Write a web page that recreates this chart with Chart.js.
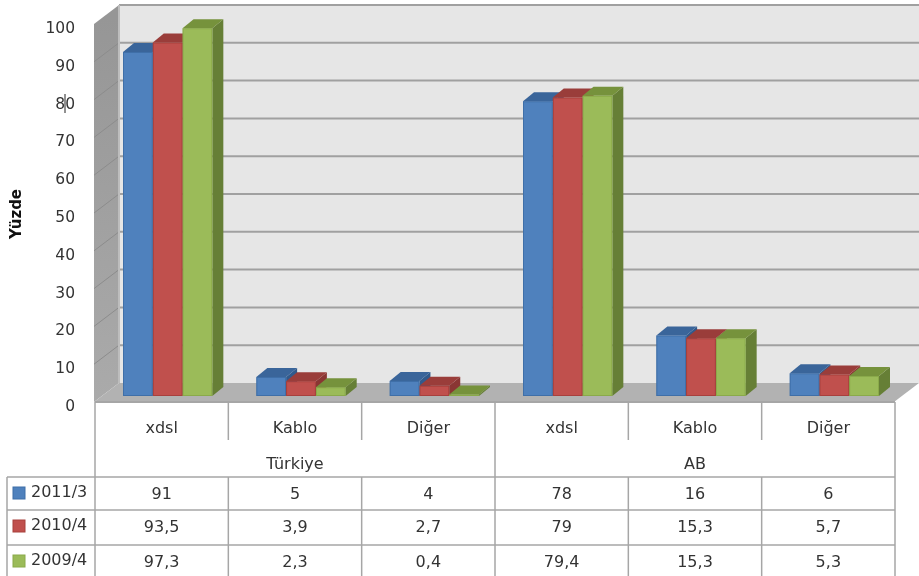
<!DOCTYPE html>
<html>
<head>
<meta charset="utf-8">
<title>Yüzde</title>
<script src="https://cdn.jsdelivr.net/npm/chart.js@4"></script>
<style>
  html, body { margin: 0; padding: 0; background: #fff; }
  canvas { display: block; }
</style>
</head>
<body>
<canvas id="chart" width="919" height="576"></canvas>
<script>
const categories = ['xdsl', 'Kablo', 'Diğer', 'xdsl', 'Kablo', 'Diğer'];
const groups = ['Türkiye', 'AB'];
const seriesNames = ['2011/3', '2010/4', '2009/4'];
const values2011 = [91, 5, 4, 78, 16, 6];
const values2010 = [93.5, 3.9, 2.7, 79, 15.3, 5.7];
const values2009 = [97.3, 2.3, 0.4, 79.4, 15.3, 5.3];
const axisTitle = 'Yüzde';

const FONT = '"DejaVu Sans", sans-serif';
const TEXT = '#333';
const LINE = '#a6a6a6';
const fill = ['#4f81bd', '#c0504d', '#9bbb59'];
const border = ['#3f6fa8', '#a8403d', '#8aaa4a'];
const topFill = ['#3a659a', '#9a3d3a', '#76923c'];
const sideFill = ['#315a8c', '#8a3633', '#667f36'];

// 3d offsets, relative to the bar scale
const barDepth = { x: 11, y: 9 };
const wallBack = { x: 18, y: -13 };
const wallFront = { x: -7, y: 6 };

const fmt = v => String(v).replace('.', ',');

function poly(ctx, pts, color) {
  ctx.fillStyle = color;
  ctx.beginPath();
  pts.forEach((p, i) => i ? ctx.lineTo(p[0], p[1]) : ctx.moveTo(p[0], p[1]));
  ctx.closePath();
  ctx.fill();
}

function seg(ctx, x1, y1, x2, y2, color, w) {
  ctx.strokeStyle = color;
  ctx.lineWidth = w;
  ctx.beginPath();
  ctx.moveTo(x1, y1);
  ctx.lineTo(x2, y2);
  ctx.stroke();
}

// side walls, floor and gridlines, then top and side of each bar.
// the bar fronts are the normal bar elements, drawn after this
const depthPlugin = {
  id: 'depth',
  beforeDatasetsDraw(chart) {
    const { ctx, chartArea: a, scales: { y } } = chart;
    const bx = a.left + wallBack.x, fx = a.left + wallFront.x;
    const rb = a.right + wallBack.x, rf = a.right + wallFront.x;
    const top = y.getPixelForValue(100), bot = y.getPixelForValue(0);
    ctx.save();
    poly(ctx, [[bx, top + wallBack.y], [rb, top + wallBack.y], [rb, bot + wallBack.y], [bx, bot + wallBack.y]], '#e6e6e6');
    const g = ctx.createLinearGradient(0, top, 0, bot);
    g.addColorStop(0, '#969696');
    g.addColorStop(1, '#aaaaaa');
    poly(ctx, [[fx, top + wallFront.y], [bx, top + wallBack.y], [bx, bot + wallBack.y], [fx, bot + wallFront.y]], g);
    poly(ctx, [[fx, bot + wallFront.y], [bx, bot + wallBack.y], [rb, bot + wallBack.y], [rf, bot + wallFront.y]], '#b2b2b2');
    y.ticks.forEach(t => {
      const py = y.getPixelForValue(t.value);
      if (t.value > 0) seg(ctx, bx, py + wallBack.y, rb, py + wallBack.y, '#a0a0a0', 2);
      if (t.value > 0 && t.value < 100) seg(ctx, fx, py + wallFront.y, bx, py + wallBack.y, '#8c8c8c', 1);
    });
    seg(ctx, bx, top + wallBack.y, bx, bot + wallBack.y, '#bdbdbd', 2);

    const d = barDepth;
    categories.forEach((c, n) => {
      chart.data.datasets.forEach((ds, i) => {
        const bar = chart.getDatasetMeta(i).data[n];
        const l = bar.x - bar.width / 2, r = bar.x + bar.width / 2;
        poly(ctx, [[r, bar.y], [r + d.x, bar.y - d.y], [r + d.x, bar.base - d.y], [r, bar.base]], sideFill[i]);
        poly(ctx, [[l, bar.y], [l + d.x, bar.y - d.y], [r + d.x, bar.y - d.y], [r, bar.y]], topFill[i]);
        // stops the light wall showing through the seam of the bar border
        poly(ctx, [[l, bar.y], [r, bar.y], [r, bar.base], [l, bar.base]], border[i]);
      });
    });
    ctx.restore();
  }
};

// data table under the plot, plus the axis title
const tablePlugin = {
  id: 'table',
  afterDraw(chart) {
    const { ctx, chartArea: a, scales: { x, y } } = chart;
    const step = x.getPixelForValue(1) - x.getPixelForValue(0);
    const left = a.left + wallFront.x + 1;
    const colX = i => left + step * i;
    const axisY = y.getPixelForValue(0) + wallFront.y;
    const rowY = [477, 510, 545];
    const rowText = [495, 528, 563];
    const series = [values2011, values2010, values2009];
    const tableLeft = 7, bottom = 576;

    ctx.save();
    seg(ctx, left, axisY, colX(6), axisY, LINE, 2);
    rowY.forEach(ry => seg(ctx, tableLeft, ry, colX(6), ry, LINE, 1.5));
    seg(ctx, tableLeft, rowY[0], tableLeft, bottom, LINE, 1.5);
    for (let i = 0; i <= 6; i++) {
      const outer = i % 3 === 0;
      seg(ctx, colX(i), axisY, colX(i), outer ? bottom : 440, LINE, 1.5);
      if (!outer) seg(ctx, colX(i), rowY[0], colX(i), bottom, LINE, 1.5);
    }

    ctx.fillStyle = TEXT;
    ctx.font = '16px ' + FONT;
    ctx.textBaseline = 'middle';
    ctx.textAlign = 'center';
    groups.forEach((g, i) => ctx.fillText(g, colX(i * 3 + 1.5), 465));
    series.forEach((vals, r) => {
      vals.forEach((v, c) => ctx.fillText(fmt(v), colX(c + 0.5), rowText[r]));
    });

    ctx.textAlign = 'left';
    seriesNames.forEach((name, r) => {
      ctx.fillStyle = fill[r];
      ctx.fillRect(13, rowText[r] - 8, 12, 12);
      ctx.strokeStyle = border[r];
      ctx.lineWidth = 1;
      ctx.strokeRect(13, rowText[r] - 8, 12, 12);
      ctx.fillStyle = TEXT;
      ctx.fillText(name, 31, rowText[r] - 2);
    });

    // axis title
    ctx.translate(17, 214);
    ctx.rotate(-Math.PI / 2);
    ctx.textAlign = 'center';
    ctx.font = 'bold 15px ' + FONT;
    ctx.fillStyle = '#111';
    ctx.fillText(axisTitle, 0, 0);
    ctx.restore();

    // text cursor left in the screenshot
    seg(ctx, 65, 94, 65, 113, '#222', 1);
  }
};

const datasets = [values2011, values2010, values2009].map((data, i) => ({
  label: seriesNames[i],
  data,
  backgroundColor: fill[i],
  borderColor: border[i],
  borderWidth: 1,
  borderSkipped: false,
  categoryPercentage: 0.67,
  barPercentage: 1
}));

new Chart(document.getElementById('chart'), {
  type: 'bar',
  data: { labels: categories, datasets },
  plugins: [depthPlugin, tablePlugin],
  options: {
    responsive: false,
    animation: false,
    devicePixelRatio: 1,
    layout: { padding: { top: 18, right: 18, left: 0, bottom: 0 } },
    plugins: { legend: { display: false }, tooltip: { enabled: false } },
    scales: {
      x: {
        grid: { display: false, drawTicks: false },
        border: { display: false },
        ticks: {
          color: TEXT,
          font: { family: FONT, size: 16 },
          padding: 23,
          labelOffset: -6,
          maxRotation: 0,
          autoSkip: false
        },
        afterFit(scale) { scale.height = 180; }
      },
      y: {
        min: 0,
        max: 100,
        grid: { display: false, drawTicks: false },
        border: { display: false },
        ticks: {
          stepSize: 10,
          color: TEXT,
          font: { family: FONT, size: 15.5 },
          padding: 26,
          labelOffset: 11
        },
        afterFit(scale) {
          scale.width = 101;
          scale.paddingTop = 0;
          scale.paddingBottom = 0;
        }
      }
    }
  }
});
</script>
</body>
</html>
